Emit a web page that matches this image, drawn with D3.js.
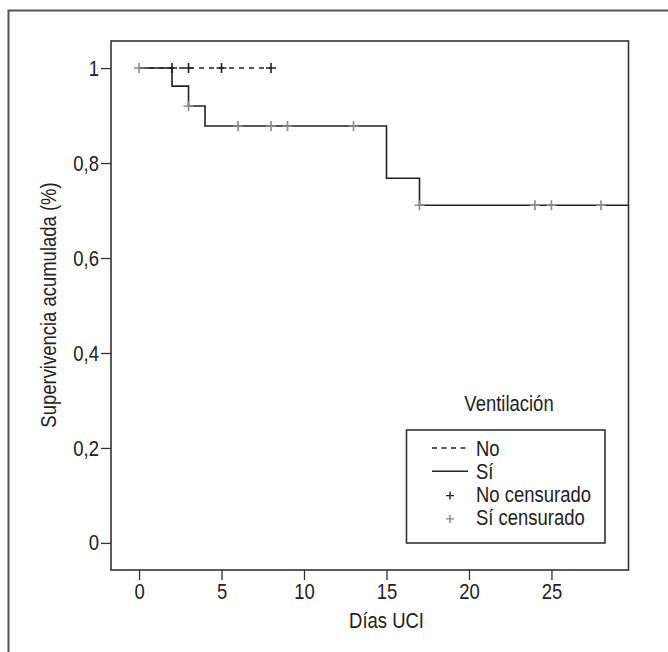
<!DOCTYPE html>
<html>
<head>
<meta charset="utf-8">
<script src="https://cdn.jsdelivr.net/npm/d3@7"></script>
<style>
  body { margin: 0; background: #fff; }
  text { font-family: "Liberation Sans", Arial, sans-serif; fill: #222; }
</style>
</head>
<body>
<div class="chartCont"></div>
<script>
var w = 668;
var h = 652;

// Kaplan-Meier curve, group "Sí" (days, cumulative survival)
const siTimes = [0, 2, 3, 4, 15, 17];
const siSurv = [1, 0.962, 0.92, 0.878, 0.768, 0.711];
// censored cases "Sí"
const siCensTimes = [0, 3, 6, 8, 9, 13, 17, 24, 25, 28];
const siCensSurv = [1, 0.92, 0.878, 0.878, 0.878, 0.878, 0.711, 0.711, 0.711, 0.711];

// group "No": no events, followed up to day 8
const noTimes = [0, 8];
const noSurv = [1, 1];
const noCensTimes = [2, 3, 5, 8];
const noCensSurv = [1, 1, 1, 1];

const xTicks = [0, 5, 10, 15, 20, 25];
const yTicks = [0, 0.2, 0.4, 0.6, 0.8, 1];
const yTickLabels = ["0", "0,2", "0,4", "0,6", "0,8", "1"];
const legendLabels = ["No", "Sí", "No censurado", "Sí censurado"];

var pLeft = 111, pRight = 628.5, pTop = 41, pBottom = 570;
var fs = "22px";
var squeeze = 0.84; // the original type is a condensed face

// move x/y into a transform and squeeze the glyphs horizontally
function condense(sel, extra) {
  sel.each(function() {
    var t = d3.select(this);
    var tx = +t.attr("x") || 0, ty = +t.attr("y") || 0;
    t.attr("x", null).attr("y", null)
     .attr("transform", "translate(" + tx + "," + ty + ")" + (extra || "") + " scale(" + squeeze + ",1)");
  });
}

var svg = d3.select(".chartCont").append("svg")
    .attr("width", w)
    .attr("height", h);

// outer frame (only left and top edges visible)
svg.append("path")
    .attr("d", "M8.5," + h + "V10.5H" + w)
    .attr("fill", "none")
    .attr("stroke", "#555")
    .attr("stroke-width", 2);

const x = d3.scaleLinear()
    .domain([-1.7, 29.67])
    .range([pLeft, pRight]);

const y = d3.scaleLinear()
    .domain([-0.057, 1.057])
    .range([pBottom, pTop]);

// axes
const yAxis = d3.axisLeft(y)
    .tickValues(yTicks)
    .tickSize(10)
    .tickPadding(2)
    .tickFormat((d, i) => yTickLabels[i]);

svg.append("g")
    .attr("transform", "translate(" + pLeft + ",0)")
    .call(yAxis)
    .call(g => g.select(".domain").remove())
    .call(g => g.selectAll("line").attr("stroke", "#333").attr("stroke-width", 1.3))
    .call(g => g.selectAll("text").style("font-size", fs).attr("fill", "#222").call(condense));

const xAxis = d3.axisBottom(x)
    .tickValues(xTicks)
    .tickSize(10)
    .tickPadding(3);

svg.append("g")
    .attr("transform", "translate(0," + pBottom + ")")
    .call(xAxis)
    .call(g => g.select(".domain").remove())
    .call(g => g.selectAll("line").attr("stroke", "#333").attr("stroke-width", 1.3))
    .call(g => g.selectAll("text").style("font-size", fs).attr("fill", "#222").call(condense));

// plot box
svg.append("rect")
    .attr("x", pLeft)
    .attr("y", pTop)
    .attr("width", pRight - pLeft)
    .attr("height", pBottom - pTop)
    .attr("fill", "none")
    .attr("stroke", "#333")
    .attr("stroke-width", 1.6);

// axis titles
svg.append("text")
    .attr("x", x(15))
    .attr("y", 628)
    .attr("text-anchor", "middle")
    .style("font-size", fs)
    .text("Días UCI")
    .call(condense);

svg.append("text")
    .attr("x", 56)
    .attr("y", 305)
    .attr("text-anchor", "middle")
    .style("font-size", fs)
    .text("Supervivencia acumulada (%)")
    .call(condense, " rotate(-90)");

// survival curves
const step = d3.line()
    .x(d => x(d[0]))
    .y(d => y(d[1]))
    .curve(d3.curveStepAfter);

const siPts = siTimes.map((t, i) => [t, siSurv[i]]);
siPts.push([x.domain()[1], siSurv[siSurv.length - 1]]);

svg.append("path")
    .datum(siPts)
    .attr("d", step)
    .attr("fill", "none")
    .attr("stroke", "#222")
    .attr("stroke-width", 1.6);

svg.append("path")
    .datum(noTimes.map((t, i) => [t, noSurv[i]]))
    .attr("d", step)
    .attr("fill", "none")
    .attr("stroke", "#222")
    .attr("stroke-width", 1.6)
    .attr("stroke-dasharray", "5,5");

const plus = "M-5,0H5M0,-5V5";

svg.selectAll(".censSi")
    .data(siCensTimes.map((t, i) => [t, siCensSurv[i]]))
    .enter()
    .append("path")
    .attr("class", "censSi")
    .attr("d", plus)
    .attr("transform", d => "translate(" + x(d[0]) + "," + y(d[1]) + ")")
    .attr("stroke", "#8a8a8a")
    .attr("stroke-width", 1.6);

svg.selectAll(".censNo")
    .data(noCensTimes.map((t, i) => [t, noCensSurv[i]]))
    .enter()
    .append("path")
    .attr("class", "censNo")
    .attr("d", plus)
    .attr("transform", d => "translate(" + x(d[0]) + "," + y(d[1]) + ")")
    .attr("stroke", "#222")
    .attr("stroke-width", 1.6);

// legend
svg.append("text")
    .attr("x", 509)
    .attr("y", 411)
    .attr("text-anchor", "middle")
    .style("font-size", fs)
    .text("Ventilación")
    .call(condense);

svg.append("rect")
    .attr("x", 406.5)
    .attr("y", 430)
    .attr("width", 198.5)
    .attr("height", 113)
    .attr("fill", "#fff")
    .attr("stroke", "#333")
    .attr("stroke-width", 1.6);

const legY = d => 448 + d * 23.3;

const leg = svg.selectAll(".leg")
    .data(legendLabels)
    .enter()
    .append("g")
    .attr("class", "leg")
    .attr("transform", (d, i) => "translate(0," + legY(i) + ")");

leg.append("text")
    .attr("x", 476)
    .attr("y", 7.5)
    .style("font-size", fs)
    .text(d => d)
    .call(condense);

leg.filter((d, i) => i < 2)
    .append("line")
    .attr("x1", 432)
    .attr("x2", 468)
    .attr("stroke", "#222")
    .attr("stroke-width", 1.4)
    .attr("stroke-dasharray", (d, i) => i === 0 ? "5,4.5" : null);

leg.filter((d, i) => i >= 2)
    .append("path")
    .attr("d", "M-4,1H4M0,-3V5")
    .attr("transform", "translate(450,0)")
    .attr("stroke", (d, i) => i === 0 ? "#222" : "#8a8a8a")
    .attr("stroke-width", 1.4);
</script>
</body>
</html>
